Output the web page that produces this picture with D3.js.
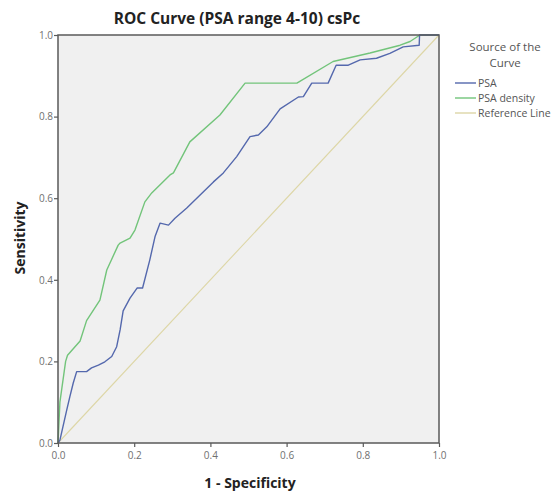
<!DOCTYPE html>
<html>
<head>
<meta charset="utf-8">
<script src="https://cdn.jsdelivr.net/npm/d3@7"></script>
<style>
  body { margin: 0; background: #fff; }
  svg { display: block; font-family: "Open Sans", "DejaVu Sans", sans-serif; }
</style>
</head>
<body>
<svg id="chart" width="557" height="493"></svg>
<script>
"use strict";

// ROC points: [1 - specificity, sensitivity]
const psaFpr = [0, 0.005, 0.023, 0.031, 0.040, 0.049, 0.075, 0.088, 0.106, 0.123, 0.141, 0.154,
    0.163, 0.171, 0.189, 0.208, 0.222, 0.241, 0.255, 0.268, 0.290, 0.307, 0.338, 0.373,
    0.408, 0.434, 0.469, 0.504, 0.526, 0.548, 0.583, 0.631, 0.644, 0.666, 0.709, 0.730,
    0.762, 0.793, 0.836, 0.871, 0.906, 0.948, 0.949, 1];
const psaTpr = [0, 0.007, 0.081, 0.113, 0.147, 0.175, 0.175, 0.184, 0.191, 0.199, 0.212, 0.236,
    0.277, 0.324, 0.355, 0.380, 0.380, 0.449, 0.507, 0.539, 0.534, 0.551, 0.576, 0.608,
    0.640, 0.662, 0.702, 0.751, 0.755, 0.775, 0.819, 0.848, 0.849, 0.882, 0.882, 0.926,
    0.926, 0.939, 0.943, 0.955, 0.971, 0.975, 1, 1];

const densFpr = [0, 0.005, 0.02, 0.025, 0.058, 0.075, 0.110, 0.128, 0.158, 0.163, 0.189, 0.202,
    0.228, 0.246, 0.294, 0.303, 0.346, 0.425, 0.491, 0.627, 0.722, 0.819, 0.898, 0.924,
    0.950, 1];
const densTpr = [0, 0.1, 0.2, 0.215, 0.25, 0.3, 0.350, 0.424, 0.485, 0.490, 0.502, 0.522,
    0.591, 0.613, 0.657, 0.662, 0.738, 0.804, 0.882, 0.882, 0.935, 0.956, 0.975, 0.984,
    1, 1];

const refFpr = [0, 1];
const refTpr = [0, 1];

const tickVals = [0, 0.2, 0.4, 0.6, 0.8, 1.0];
const legendTitle = ["Source of the", "Curve"];

const series = [
    { name: "PSA", color: "#5468ad", fpr: psaFpr, tpr: psaTpr, width: 1.4 },
    { name: "PSA density", color: "#72c47a", fpr: densFpr, tpr: densTpr, width: 1.4 },
    { name: "Reference Line", color: "#ddd6a6", fpr: refFpr, tpr: refTpr, width: 1.1 }
];

const svg = d3.select("#chart");
const plot = { left: 58, right: 439, top: 35, bottom: 443 };

const x = d3.scaleLinear().domain([0, 1]).range([plot.left, plot.right]);
const y = d3.scaleLinear().domain([0, 1]).range([plot.bottom, plot.top]);

// plot background
svg.append("rect")
    .attr("x", plot.left).attr("y", plot.top)
    .attr("width", plot.right - plot.left).attr("height", plot.bottom - plot.top)
    .attr("fill", "#f0f0f0");

const line = d3.line()
    .x(d => x(d[0]))
    .y(d => y(d[1]));

// reference first so the curves sit on top
series.slice().reverse().forEach(s => {
    svg.append("path")
        .datum(d3.zip(s.fpr, s.tpr))
        .attr("d", line)
        .attr("fill", "none")
        .attr("stroke", s.color)
        .attr("stroke-width", s.width)
        .attr("stroke-linejoin", "round");
});

// frame
svg.append("rect")
    .attr("x", plot.left).attr("y", plot.top)
    .attr("width", plot.right - plot.left).attr("height", plot.bottom - plot.top)
    .attr("fill", "none")
    .attr("stroke", "#5a5a5a")
    .attr("stroke-width", 1.5);

const xAxis = svg.append("g")
    .attr("transform", `translate(0,${plot.bottom})`)
    .call(d3.axisBottom(x).tickValues(tickVals).tickFormat(d3.format(".1f")).tickSize(4).tickSizeOuter(0));
const yAxis = svg.append("g")
    .attr("transform", `translate(${plot.left},0)`)
    .call(d3.axisLeft(y).tickValues(tickVals).tickFormat(d3.format(".1f")).tickSize(4).tickSizeOuter(0));

[xAxis, yAxis].forEach(g => {
    g.select(".domain").remove();
    g.selectAll(".tick line").attr("stroke", "#5a5a5a").attr("stroke-width", 1.2);
    g.selectAll(".tick text")
        .attr("fill", "#707070")
        .style("font-size", "10px")
        .style("font-family", "\"Open Sans\", sans-serif");
});
xAxis.selectAll(".tick text").attr("dy", "0.9em");
yAxis.selectAll(".tick text").attr("x", -5);

// title and axis titles
svg.append("text")
    .attr("x", 237).attr("y", 24)
    .attr("text-anchor", "middle")
    .style("font-size", "15.5px").style("font-weight", "bold")
    .attr("fill", "#222")
    .text("ROC Curve (PSA range 4-10) csPc");

svg.append("text")
    .attr("x", 250).attr("y", 488)
    .attr("text-anchor", "middle")
    .style("font-size", "14px").style("font-weight", "bold")
    .attr("fill", "#222")
    .text("1 - Specificity");

svg.append("text")
    .attr("transform", "translate(25,238) rotate(-90)")
    .attr("text-anchor", "middle")
    .style("font-size", "14px").style("font-weight", "bold")
    .attr("fill", "#222")
    .text("Sensitivity");

// legend
const legend = svg.append("g");
legendTitle.forEach((t, i) => {
    legend.append("text")
        .attr("x", 505).attr("y", 51 + i * 15.5)
        .attr("text-anchor", "middle")
        .style("font-size", "11.5px").attr("fill", "#555")
        .text(t);
});

const item = legend.selectAll(".item")
    .data(series)
    .enter().append("g")
    .attr("class", "item")
    .attr("transform", (d, i) => `translate(0,${83 + i * 15})`);
item.append("line")
    .attr("x1", 455).attr("x2", 476)
    .attr("stroke", d => d.color)
    .attr("stroke-width", 1.4);
item.append("text")
    .attr("x", 478).attr("y", 3.5)
    .style("font-size", "10.5px").attr("fill", "#555")
    .text(d => d.name);
</script>
</body>
</html>
